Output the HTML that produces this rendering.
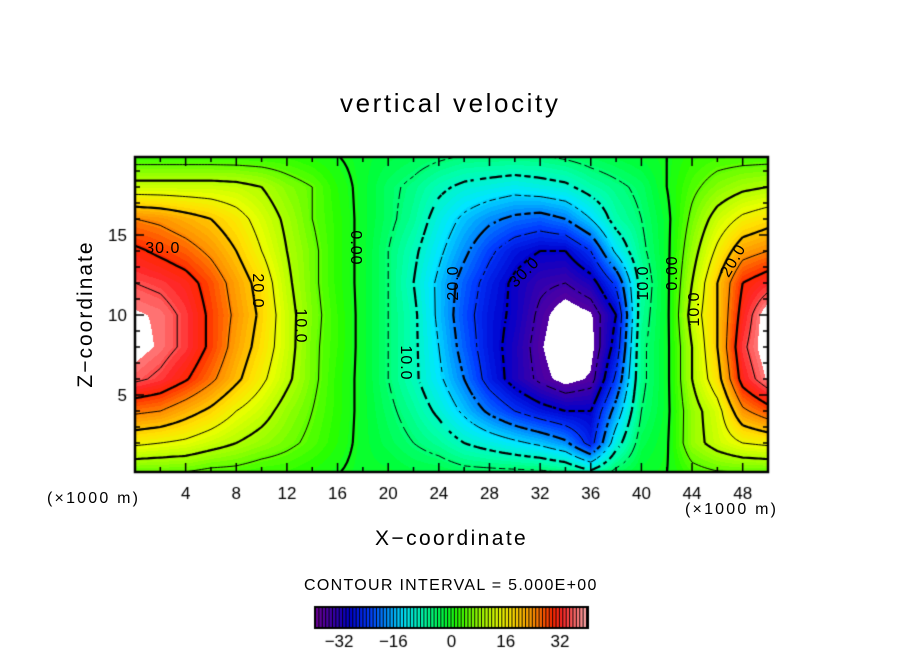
<!DOCTYPE html>
<html><head><meta charset="utf-8"><style>
body{margin:0;background:#fff;width:904px;height:654px;overflow:hidden;position:relative;font-family:"Liberation Sans",sans-serif}
.t{position:absolute;white-space:nowrap;color:#000}
</style></head><body>
<div class="t" style="left:340px;top:88px;font-size:26px;letter-spacing:2.6px">vertical velocity</div>
<canvas id="c" width="904" height="654" style="position:absolute;left:0;top:0"></canvas>
<div class="t" style="left:6px;top:302px;font-size:21px;letter-spacing:2px;transform:rotate(-90deg);transform-origin:center;width:160px;text-align:center">Z−coordinate</div>
<div class="t" style="left:375px;top:527px;font-size:21px;letter-spacing:2.4px">X−coordinate</div>
<div class="t" style="left:47px;top:490px;font-size:16px;letter-spacing:2.2px">(×1000 m)</div>
<div class="t" style="left:685px;top:501px;font-size:16px;letter-spacing:2.2px">(×1000 m)</div>
<div class="t" style="left:304px;top:577px;font-size:16px;letter-spacing:1.3px">CONTOUR INTERVAL = 5.000E+00</div>
<div id="lab"></div>
<script>
const xs=[0,2,4,6,8,10,12,14,16,18,20,22,24,26,28,30,32,34,36,38,40,42,44,46,48,50];
const zs=[0,2,4,6,8,10,12,14,16,18,20];
const w0=[4,4,4,3,3,2,2,1,0,-1,-1,-2,-2,-3,-3,-3,-3,-4,-7,-3,-1,0,3,4,4,4];
const w2=[16,15,14,12,10,8,6,4,1.5,-1,-3,-5,-7,-10,-12,-14,-16,-19,-27,-12,-3,-0.5,8,12,15,16];
const w4=[26,25,22,19,15,12,8,5,2,-1,-4,-7,-11,-16,-21,-25,-28,-30,-30,-18,-5,-1,8,13,24,28];
const w6=[36,34,30.5,26,21,16,11,6,2,-1,-5,-9,-14,-20,-27,-32,-36,-39,-37,-24,-6,-1,10,18,32,38];
const w8=[39,37,34,29,23,18,12,6,2.5,-1,-5,-9,-15,-22,-28,-32,-37,-41,-39,-28,-6,-1,10,20,34,40];
const w10=[38,37,34,29,24,19,12,6.5,2.5,-1,-5,-9,-16,-23,-28,-31,-36,-40,-38,-30,-7,-1,12,20,32,40];
const w12=[35,34,32,28,23,18,11,6,2,-1,-5,-10,-16,-22,-27,-31,-34,-35,-32,-24,-8,-1,10,20,30,33];
const w14=[31,29,27,24,20,15,10,6,2,-1,-5,-9,-14,-19,-24,-28,-30,-30,-25,-14,-6,-1,8,16,23,25];
const w16=[25,24,22,20,17,13,9,5,2,-1,-4,-7,-12,-16,-19,-21,-22,-20,-15,-8,-5,-1,6,12,16,18];
const w18=[12,12,12,12,11.5,10,7,5,1.5,-1,-4,-6,-9,-11,-12,-13,-12,-11,-8,-6,-4,0,4,7,9,10];
const w20=[2,2,2,2,2,2,2,1,0,-1,-2,-3,-4,-5,-5,-5,-5,-4,-3,-2,-1,0,2,3,3,3];
const rows=[w0,w2,w4,w6,w8,w10,w12,w14,w16,w18,w20];
const cbTicks=[-32,-16,0,16,32];

const X0=135,X1=768,Y0=157,Y1=472;
const px=x=>X0+(x-0)*(X1-X0)/50;
const pz=z=>475-16*z;
function field(x,z){
  let i=Math.min(xs.length-2,Math.max(0,Math.floor(x/2)));
  let j=Math.min(zs.length-2,Math.max(0,Math.floor(z/2)));
  let fx=(x-xs[i])/2,fz=(z-zs[j])/2;
  fx=Math.max(0,Math.min(1,fx));fz=Math.max(0,Math.min(1,fz));
  const a=rows[j][i],b=rows[j][i+1],c=rows[j+1][i],d=rows[j+1][i+1];
  return a*(1-fx)*(1-fz)+b*fx*(1-fz)+c*(1-fx)*fz+d*fx*fz;
}
const stops=[[-40,110,0,150],[-34,50,0,175],[-30,0,0,205],[-24,0,60,255],[-18,0,160,255],[-14,0,230,255],[-8,0,255,170],[-2,0,255,60],[2,40,255,0],[8,150,255,0],[14,230,255,0],[18,255,225,0],[24,255,150,0],[30,255,40,0],[33,255,40,40],[40,255,170,170]];
function col(v){
  if(v<=stops[0][0])return stops[0].slice(1);
  for(let k=1;k<stops.length;k++){if(v<=stops[k][0]){const s=stops[k-1],e=stops[k],f=(v-s[0])/(e[0]-s[0]);return [0,1,2].map(q=>s[q+1]+(e[q+1]-s[q+1])*f);}}
  return stops[stops.length-1].slice(1);
}
const cv=document.getElementById('c'),g=cv.getContext('2d');
const W=X1-X0,H=Y1-Y0,img=g.createImageData(W,H);
for(let yy=0;yy<H;yy++)for(let xx=0;xx<W;xx++){
  const x=(xx+0.5)*50/(X1-X0),z=(475-(Y0+yy+0.5))/16;
  let v=Math.round(field(x,z));
  const o=(yy*W+xx)*4;let c=Math.abs(v)>=38?[255,255,255]:col(v);
  img.data[o]=c[0];img.data[o+1]=c[1];img.data[o+2]=c[2];img.data[o+3]=255;
}
g.putImageData(img,X0,Y0);
const st=0.25,nx=Math.round(50/st),nz=Math.round(20/st);
const F=[];for(let j=0;j<=nz;j++){F[j]=[];for(let i=0;i<=nx;i++)F[j][i]=field(i*st,j*st);}
g.save();g.beginPath();g.rect(X0,Y0,W,H);g.clip();
for(let L=-35;L<=35;L+=5){
  g.lineWidth=(L%10===0)?2.2:1;g.strokeStyle='#000';
  g.beginPath();
  for(let j=0;j<nz;j++)for(let i=0;i<nx;i++){
    const v=[F[j][i],F[j][i+1],F[j+1][i+1],F[j+1][i]];
    const p=[[i,j],[i+1,j],[i+1,j+1],[i,j+1]];
    const pts=[];
    for(let e=0;e<4;e++){const a=v[e],b=v[(e+1)%4];
      if((a<L)!==(b<L)){const f=(L-a)/(b-a);const A=p[e],B=p[(e+1)%4];
        pts.push([px((A[0]+(B[0]-A[0])*f)*st),pz((A[1]+(B[1]-A[1])*f)*st)]);}}
    const segs=[];
    if(pts.length>=2)segs.push([pts[0],pts[1]]);
    if(pts.length===4)segs.push([pts[2],pts[3]]);
    segs.forEach(s=>{
      if(L<0){const mx=(s[0][0]+s[1][0])/2,my=(s[0][1]+s[1][1])/2;
        if(Math.floor((mx+my)/5)%2!==0 && Math.floor((mx-my)/5)%2!==0)return;}
      g.moveTo(s[0][0],s[0][1]);g.lineTo(s[1][0],s[1][1]);});
  }
  g.stroke();
}
g.restore();
g.strokeStyle='#000';g.lineWidth=2.5;g.strokeRect(X0,Y0,W,H);g.lineWidth=1.5;
g.beginPath();
for(let x=2;x<50;x+=2){const L=x%4===0?9:5;g.moveTo(px(x),Y1);g.lineTo(px(x),Y1-L);g.moveTo(px(x),Y0);g.lineTo(px(x),Y0+L);}
for(let z=1;z<20;z++){const L=z%5===0?9:5;if(pz(z)<Y0+2)continue;g.moveTo(X0,pz(z));g.lineTo(X0+L,pz(z));g.moveTo(X1,pz(z));g.lineTo(X1-L,pz(z));}
g.stroke();
g.fillStyle='#000';g.font='17px "Liberation Sans", sans-serif';g.textAlign='center';
for(let x=4;x<50;x+=4)g.fillText(String(x),px(x),499);
g.textAlign='right';for(let z=5;z<20;z+=5)g.fillText(String(z),127,pz(z)+6);
const CB0=316,CB1=587,CBy=608,CBh=19,cbx=v=>CB0+(v+40)*(CB1-CB0)/80;
g.fillStyle='#000';g.fillRect(CB0-2,CBy-2,CB1-CB0+4,CBh+4);
for(let v=-40;v<40;v++){const c=col(v+0.5);g.fillStyle=`rgb(${c[0]|0},${c[1]|0},${c[2]|0})`;g.fillRect(cbx(v),CBy,(CB1-CB0)/80-1,CBh);}
g.fillStyle='#000';g.textAlign='center';g.font='17px "Liberation Sans", sans-serif';
cbTicks.forEach(t=>g.fillText((t<0?'−':'')+Math.abs(t),cbx(t)-(t<0?4:0),647));
const labs=[["30.0",2.2,14.1,0],["20.0",9.6,11.5,90],["10.0",13,9.3,90],["0.00",17.4,14.2,90],["10.0",21.3,7,90],["20.0",25.2,12,-90],["30.0",30.8,12.6,-45],["10.0",40.2,12,-90],["0.00",42.5,12.6,-90],["10.0",44.2,10.4,-90],["20.0",47.3,13.4,-60]];
labs.forEach(l=>{const d=document.createElement('div');d.className='t';


d.textContent=l[0];d.style.fontSize='16px';d.style.letterSpacing='1px';d.style.left=(px(l[1])-18)+'px';d.style.top=(pz(l[2])-9)+'px';d.style.width='36px';d.style.textAlign='center';d.style.transform=`rotate(${l[3]}deg)`;
document.getElementById('lab').appendChild(d);});
</script>
</body></html>
